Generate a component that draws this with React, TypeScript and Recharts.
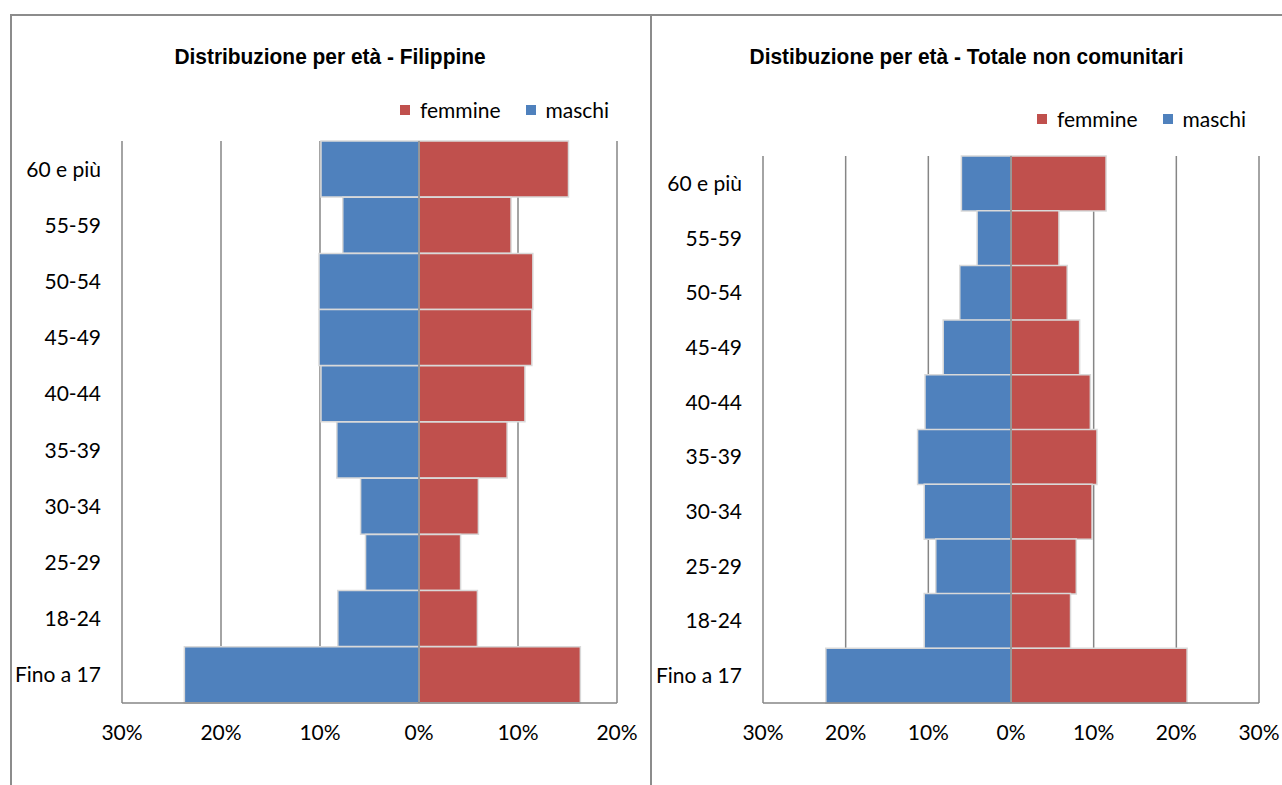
import React from "react";
import {
  Bar,
  BarChart,
  CartesianGrid,
  Legend,
  ReferenceLine,
  XAxis,
  YAxis
} from "recharts";

const ageGroups = ["60 e più", "55-59", "50-54", "45-49", "40-44", "35-39", "30-34", "25-29", "18-24", "Fino a 17"];

const filippineMaschi = [9.9, 7.7, 10.1, 10.1, 9.9, 8.3, 5.9, 5.4, 8.2, 23.7];
const filippineFemmine = [15.1, 9.3, 11.5, 11.4, 10.7, 8.9, 6.0, 4.2, 5.9, 16.3];

const totaleMaschi = [6.0, 4.1, 6.2, 8.2, 10.4, 11.3, 10.5, 9.1, 10.5, 22.4];
const totaleFemmine = [11.5, 5.8, 6.8, 8.3, 9.6, 10.4, 9.8, 7.9, 7.2, 21.3];

const filippineTicks = [-30, -20, -10, 0, 10, 20];
const totaleTicks = [-30, -20, -10, 0, 10, 20, 30];

const blue = "#4f81bd";
const red = "#c0504d";
const gridColor = "#868686";
const labelFont = "Lato, 'Open Sans', sans-serif";

type PyramidProps = {
  title: string;
  maschi: number[];
  femmine: number[];
  ticks: number[];
  left: number;
  width: number;
  top: number;
  right: number;
  legendTop: number;
  legendLeft: number;
};

function renderLegend(props: any) {
  const items = props.payload || [];
  return (
    <div style={{ display: "flex", gap: 25, fontFamily: labelFont, fontSize: 21, color: "#000" }}>
      {items.map((item: any) => (
        <span key={item.value} style={{ display: "flex", alignItems: "center" }}>
          <span style={{ width: 10, height: 10, background: item.color, marginRight: 10 }} />
          {item.value}
        </span>
      ))}
    </div>
  );
}

function Pyramid({ title, maschi, femmine, ticks, left, width, top, right, legendTop, legendLeft }: PyramidProps) {
  const data = ageGroups.map((age, i) => ({
    age,
    femmine: femmine[i],
    maschi: -maschi[i]
  }));

  return (
    <div style={{ position: "absolute", left, top: 0, width, height: 785 }}>
      <div
        style={{
          position: "absolute",
          top: 44,
          left: 0,
          width,
          textAlign: "center",
          fontFamily: "'Liberation Sans', Arial, sans-serif",
          fontWeight: "bold",
          fontSize: 22,
          color: "#000",
          transform: "scaleX(0.95)",
          transformOrigin: "center"
        }}
      >
        {title}
      </div>
      <BarChart
        width={width}
        height={785}
        data={data}
        layout="vertical"
        stackOffset="sign"
        barCategoryGap={0}
        margin={{ top, right, bottom: 42, left: 12 }}
      >
        <CartesianGrid horizontal={false} stroke={gridColor} strokeWidth={1.5} />
        <XAxis
          type="number"
          domain={[ticks[0], ticks[ticks.length - 1]]}
          ticks={ticks}
          interval={0}
          height={40}
          tickSize={0}
          tickMargin={22}
          tickLine={false}
          axisLine={{ stroke: gridColor, strokeWidth: 1.5 }}
          tick={{ fill: "#000", fontSize: 21, fontFamily: labelFont }}
          tickFormatter={(v) => `${Math.abs(Number(v))}%`}
        />
        <YAxis
          type="category"
          dataKey="age"
          width={100}
          tickSize={0}
          tickMargin={21}
          tickLine={false}
          axisLine={false}
          tick={{ fill: "#000", fontSize: 21, fontFamily: labelFont }}
        />
        <Legend
          layout="horizontal"
          verticalAlign="middle"
          align="center"
          content={renderLegend}
          wrapperStyle={{ top: legendTop, left: legendLeft, width: "auto", height: "auto" }}
        />
        <Bar dataKey="femmine" name="femmine" stackId="a" fill={red} stroke="#d9d9d9" strokeWidth={1.5} isAnimationActive={false} />
        <Bar dataKey="maschi" name="maschi" stackId="a" fill={blue} stroke="#d9d9d9" strokeWidth={1.5} isAnimationActive={false} />
        <ReferenceLine x={0} stroke={gridColor} strokeWidth={1.5} />
      </BarChart>
    </div>
  );
}

export default function App() {
  return (
    <div
      style={{
        position: "fixed",
        left: 0,
        top: 0,
        width: 1282,
        height: 785,
        overflow: "hidden",
        background: "#fff"
      }}
    >
      <div style={{ position: "absolute", left: 10, top: 14, width: 1300, height: 2, background: "#8c8c8c" }} />
      <div style={{ position: "absolute", left: 10, top: 14, width: 2, height: 800, background: "#8c8c8c" }} />
      <div style={{ position: "absolute", left: 650, top: 14, width: 2, height: 800, background: "#8c8c8c" }} />
      <Pyramid
        title="Distribuzione per età - Filippine"
        maschi={filippineMaschi}
        femmine={filippineFemmine}
        ticks={filippineTicks}
        left={10}
        width={640}
        top={141}
        right={33}
        legendTop={97}
        legendLeft={390}
      />
      <Pyramid
        title="Distibuzione per età - Totale non comunitari"
        maschi={totaleMaschi}
        femmine={totaleFemmine}
        ticks={totaleTicks}
        left={651}
        width={631}
        top={156}
        right={23}
        legendTop={106}
        legendLeft={386}
      />
    </div>
  );
}
